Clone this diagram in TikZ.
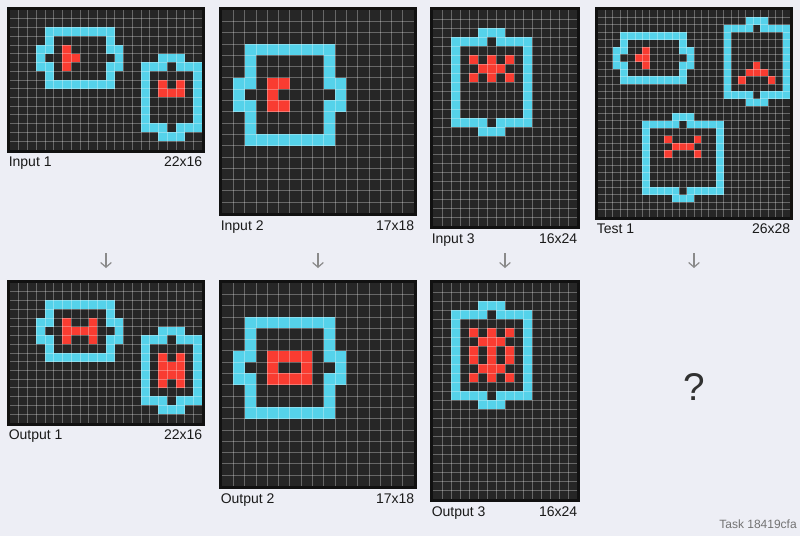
\documentclass[tikz,border=0pt]{standalone}
\usepackage{fontspec}
\setmainfont{Liberation Sans}
\usetikzlibrary{arrows.meta}

\definecolor{hgrund}{HTML}{EDEEF5}
\definecolor{feldgrund}{HTML}{262626}
\definecolor{rahmen}{HTML}{111111}
\definecolor{tuerkis}{HTML}{55D2EA}
\definecolor{rot}{HTML}{F93C31}
\definecolor{pfeilgrau}{HTML}{8A8A8A}
\definecolor{schrift}{HTML}{1A1A1A}

\tikzset{
	cy/.style={fill=tuerkis},
	rt/.style={fill=rot},
	gitter/.style={draw=white, draw opacity=0.3, line width=0.45pt},
	rand/.style={draw=rahmen, line width=4.5pt},
	beschr/.style={inner sep=0pt, font=\fontsize{10.5}{12}\selectfont, text=schrift},
	pfeil/.style={draw=pfeilgrau, line width=0.9pt, -{Straight Barb[length=3.5pt,width=8pt]}},
}

% Feld mit Rahmen und Gitter: x0, y0, Zelle (pt), Breite, Hoehe, Inhalt
\newcommand{\arcfeld}[6]{%
	\begin{scope}[shift={(#1,#2)}, x=#3pt, y=-#3pt]
		\draw[rand] (0,0) rectangle (#4,#5);
		\fill[feldgrund] (0,0) rectangle (#4,#5);
		#6
		\pgfmathtruncatemacro{\wm}{#4-1}\pgfmathtruncatemacro{\hm}{#5-1}%
		\foreach \i in {1,...,\wm} \draw[gitter] (\i,0) -- (\i,#5);
		\foreach \j in {1,...,\hm} \draw[gitter] (0,\j) -- (#4,\j);
	\end{scope}}

% liegender Rahmen: Spalte links, Spalte rechts, Zeile oben, Zeile unten
\newcommand{\hrahmen}[4]{%
	\pgfmathtruncatemacro{\rmitte}{(#3+#4)/2}%
	\fill[cy] (#1+1,#3) rectangle (#2,#3+1);
	\fill[cy] (#1+1,#4) rectangle (#2,#4+1);
	\fill[cy] (#1+1,#3+1) rectangle (#1+2,\rmitte);
	\fill[cy] (#1+1,\rmitte+1) rectangle (#1+2,#4);
	\fill[cy] (#1,\rmitte-1) rectangle (#1+1,\rmitte+2);
	\fill[cy] (#2-1,#3+1) rectangle (#2,\rmitte);
	\fill[cy] (#2-1,\rmitte+1) rectangle (#2,#4);
	\fill[cy] (#2,\rmitte-1) rectangle (#2+1,\rmitte+2);
}

% stehender Rahmen: Spalte links, Spalte rechts, Zeile oben, Zeile unten
\newcommand{\vrahmen}[4]{%
	\pgfmathtruncatemacro{\cmitte}{(#1+#2)/2}%
	\fill[cy] (\cmitte-1,#3) rectangle (\cmitte+2,#3+1);
	\fill[cy] (#1,#3+1) rectangle (\cmitte,#3+2);
	\fill[cy] (\cmitte+1,#3+1) rectangle (#2+1,#3+2);
	\fill[cy] (#1,#4-1) rectangle (\cmitte,#4);
	\fill[cy] (\cmitte+1,#4-1) rectangle (#2+1,#4);
	\fill[cy] (\cmitte-1,#4) rectangle (\cmitte+2,#4+1);
	\fill[cy] (#1,#3+2) rectangle (#1+1,#4-1);
	\fill[cy] (#2,#3+2) rectangle (#2+1,#4-1);
}

\begin{document}
\begin{tikzpicture}[x=0.75pt, y=-0.75pt]
	
	% Hintergrund
	\fill[hgrund] (0,0) rectangle (800,536);
	\useasboundingbox (0,0) rectangle (800,536);
	
	% Input 1
	\arcfeld{10}{10}{6.5455}{22}{16}{%
		\hrahmen{3}{12}{2}{8}
		\vrahmen{15}{21}{5}{14}
		\foreach \x/\y in {6/4,6/5,6/6,7/5,17/8,19/8,17/9,18/9,19/9}
			\fill[rt] (\x,\y) rectangle ++(1,1);
	}
	\node[beschr, anchor=base west] (in1) at (8.5,166.6) {Input 1};
	\node[beschr, anchor=base east] (in1dim) at (202.5,166.6) {22x16};
	
	% Output 1
	\arcfeld{10}{283}{6.5455}{22}{16}{%
		\hrahmen{3}{12}{2}{8}
		\vrahmen{15}{21}{5}{14}
		\foreach \x/\y in {6/4,6/5,6/6,7/5,8/5,9/4,9/5,9/6,
			17/8,19/8,17/9,18/9,19/9,17/10,18/10,19/10,17/11,19/11}
			\fill[rt] (\x,\y) rectangle ++(1,1);
	}
	\node[beschr, anchor=base west] (out1) at (8.5,439.6) {Output 1};
	\node[beschr, anchor=base east] (out1dim) at (202.5,439.6) {22x16};
	
	% Input 2
	\arcfeld{222}{10}{8.4706}{17}{18}{%
		\hrahmen{1}{10}{3}{11}
		\foreach \x/\y in {4/6,4/7,4/8,5/6,5/8}
			\fill[rt] (\x,\y) rectangle ++(1,1);
	}
	\node[beschr, anchor=base west] (in2) at (220.5,230.3) {Input 2};
	\node[beschr, anchor=base east] (in2dim) at (414.5,230.3) {17x18};
	
	% Output 2
	\arcfeld{222}{283}{8.4706}{17}{18}{%
		\hrahmen{1}{10}{3}{11}
		\foreach \x/\y in {4/6,4/7,4/8,5/6,5/8,6/6,6/8,7/6,7/7,7/8}
			\fill[rt] (\x,\y) rectangle ++(1,1);
	}
	\node[beschr, anchor=base west] (out2) at (220.5,503.3) {Output 2};
	\node[beschr, anchor=base east] (out2dim) at (414.5,503.3) {17x18};
	
	% Input 3
	\arcfeld{433}{10}{6.75}{16}{24}{%
		\vrahmen{2}{10}{2}{13}
		\foreach \x/\y in {4/5,6/5,8/5,5/6,6/6,7/6,4/7,6/7,8/7}
			\fill[rt] (\x,\y) rectangle ++(1,1);
	}
	\node[beschr, anchor=base west] (in3) at (431.5,243) {Input 3};
	\node[beschr, anchor=base east] (in3dim) at (577.5,243) {16x24};
	
	% Output 3
	\arcfeld{433}{283}{6.75}{16}{24}{%
		\vrahmen{2}{10}{2}{13}
		\foreach \x/\y in {4/5,6/5,8/5,5/6,6/6,7/6,4/7,6/7,8/7,
			4/8,6/8,8/8,5/9,6/9,7/9,4/10,6/10,8/10}
			\fill[rt] (\x,\y) rectangle ++(1,1);
	}
	\node[beschr, anchor=base west] (out3) at (431.5,516) {Output 3};
	\node[beschr, anchor=base east] (out3dim) at (577.5,516) {16x24};
	
	% Test 1
	\arcfeld{598}{10}{5.5385}{26}{28}{%
		\hrahmen{2}{12}{3}{9}
		\vrahmen{17}{25}{1}{12}
		\vrahmen{6}{16}{14}{25}
		\foreach \x/\y in {6/5,5/6,6/6,6/7,21/7,20/8,21/8,22/8,19/9,23/9,
			9/17,13/17,10/18,11/18,12/18,9/19,13/19}
			\fill[rt] (\x,\y) rectangle ++(1,1);
	}
	\node[beschr, anchor=base west] (test1) at (596.5,233.8) {Test 1};
	\node[beschr, anchor=base east] (test1dim) at (790.5,233.8) {26x28};
	
	% Pfeile
	\coordinate (p1o) at (106,253);  \coordinate (p1u) at (106,268);
	\coordinate (p2o) at (318,253);  \coordinate (p2u) at (318,268);
	\coordinate (p3o) at (505,253);  \coordinate (p3u) at (505,268);
	\coordinate (p4o) at (694,253);  \coordinate (p4u) at (694,268);
	\draw[pfeil] (p1o) -- (p1u);
	\draw[pfeil] (p2o) -- (p2u);
	\draw[pfeil] (p3o) -- (p3u);
	\draw[pfeil] (p4o) -- (p4u);
	
	% Fragezeichen und Aufgabe
	\node[inner sep=0pt, font=\fontsize{29}{32}\selectfont, text=schrift!90] (frage) at (694,387) {?};
	\node[inner sep=0pt, anchor=base east, font=\fontsize{9}{10}\selectfont, text=black!55] (aufgabe) at (797,528.5) {Task 18419cfa};
	
\end{tikzpicture}
\end{document}
